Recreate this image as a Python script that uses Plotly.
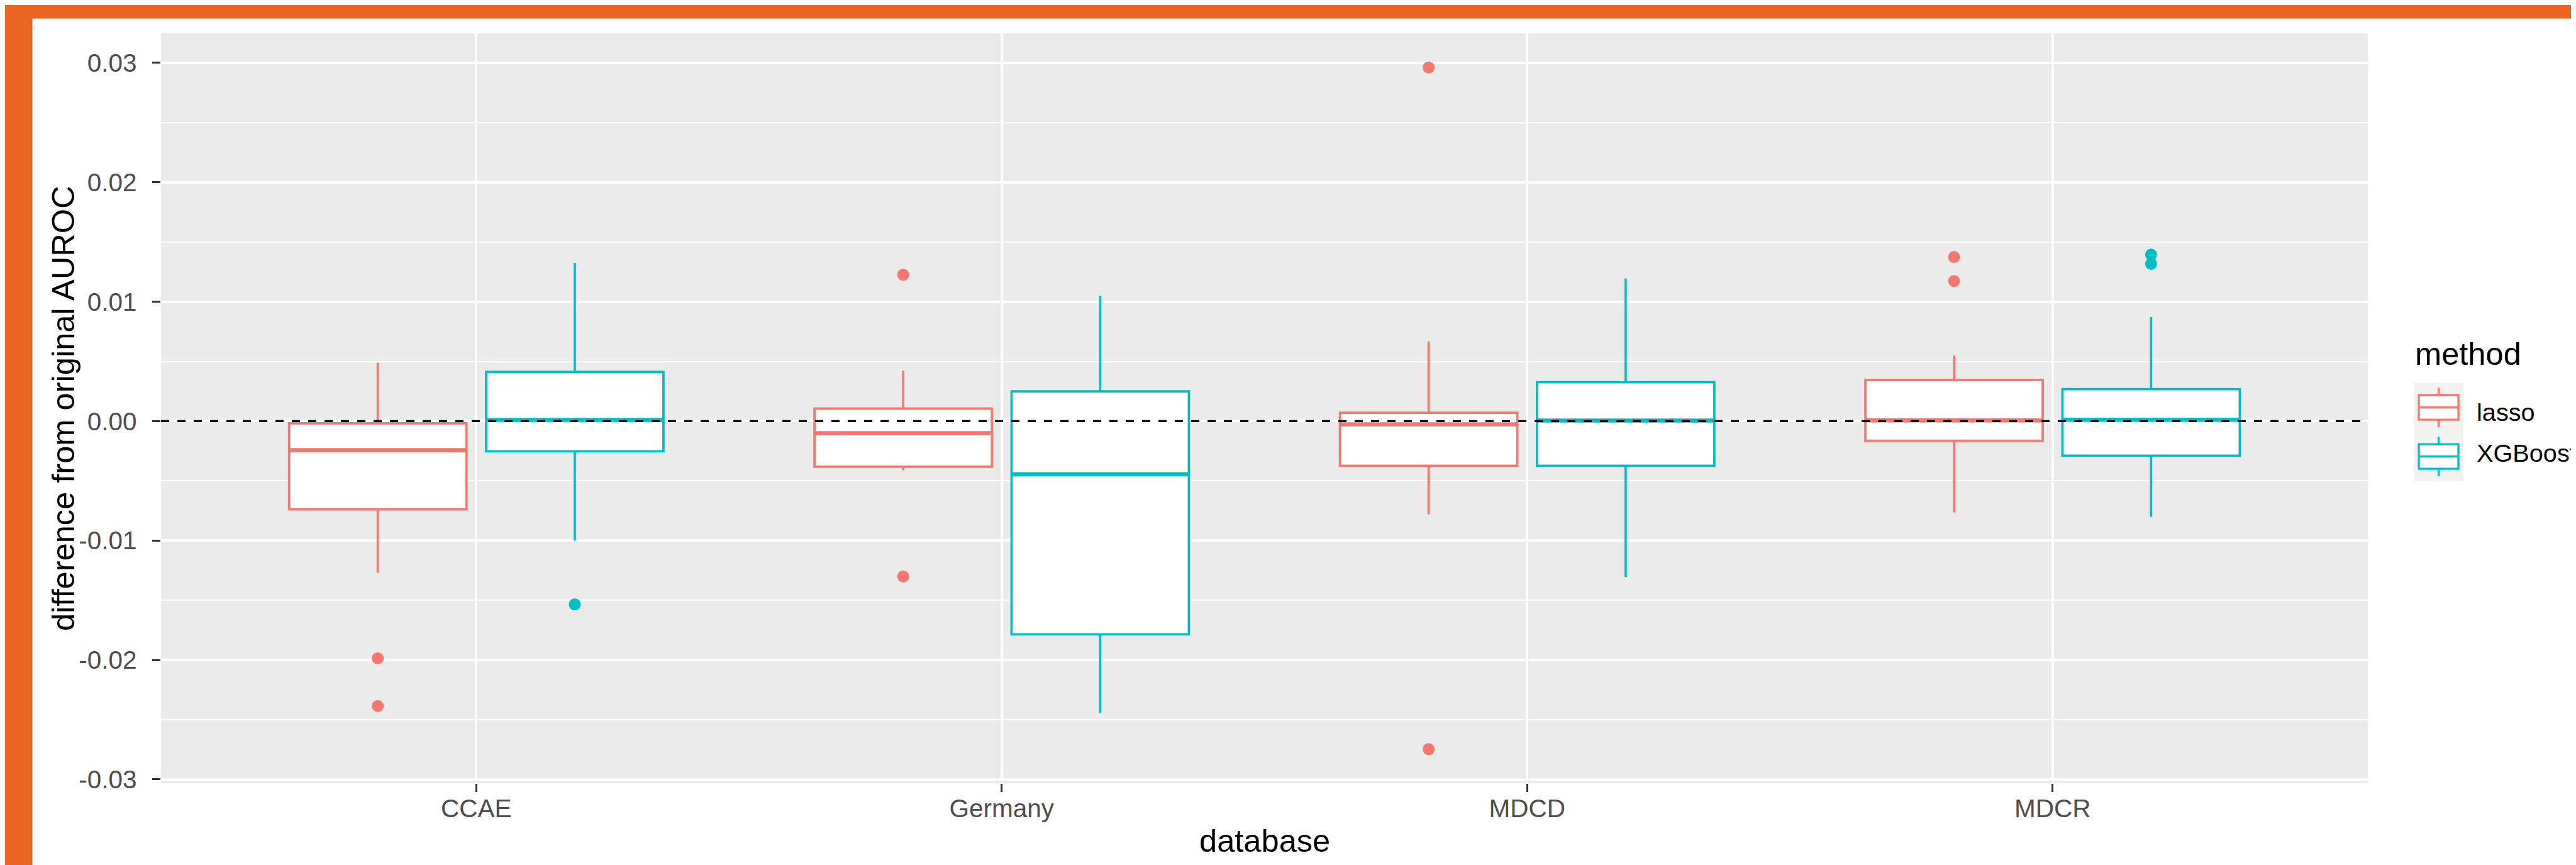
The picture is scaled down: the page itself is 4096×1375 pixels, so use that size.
import plotly.graph_objects as go

# ---------------- data ----------------
databases = ["CCAE", "Germany", "MDCD", "MDCR"]
methods = ["lasso", "XGBoost"]

lasso_lowerfence = [-0.0127, -0.0041, -0.00781, -0.00765]
lasso_q1 = [-0.00738, -0.00382, -0.00374, -0.00164]
lasso_median = [-0.00243, -0.00101, -0.00027, 0.00007]
lasso_q3 = [-0.00018, 0.00106, 0.00070, 0.00344]
lasso_upperfence = [0.00490, 0.00422, 0.00667, 0.00550]
lasso_outlier_db = ["CCAE", "CCAE", "Germany", "Germany", "MDCD", "MDCD", "MDCR", "MDCR"]
lasso_outlier_val = [-0.01987, -0.02386, 0.01226, -0.01300, 0.02962, -0.02747, 0.01374, 0.01173]

xgb_lowerfence = [-0.01000, -0.02444, -0.01304, -0.00803]
xgb_q1 = [-0.00253, -0.01786, -0.00374, -0.00290]
xgb_median = [0.00010, -0.00444, 0.00005, 0.00011]
xgb_q3 = [0.00412, 0.00249, 0.00325, 0.00267]
xgb_upperfence = [0.01324, 0.01049, 0.01194, 0.00872]
xgb_outlier_db = ["CCAE", "MDCR", "MDCR"]
xgb_outlier_val = [-0.01535, 0.01394, 0.01317]

y_tickvals = [-0.03, -0.02, -0.01, 0.0, 0.01, 0.02, 0.03]
y_ticktext = ["-0.03", "-0.02", "-0.01", "0.00", "0.01", "0.02", "0.03"]
ref_line_value = 0.0

x_title = "database"
y_title = "difference from original AUROC"
legend_title = "method"

# ---------------- styling / layout ----------------
W, H = 4096, 1375
S = 4096 / 4903.0
ML = 297 * S
MR = W - 4497 * S
MT = 54 * S
MB = H - 1481 * S
PW = W - ML - MR
PH = H - MT - MB

FONT = "Liberation Sans, Arial, sans-serif"
TICK_FONT = 48.5 * S
LEG_FONT = 47.5 * S
TITLE_FONT = 60.6 * S
COLORS = {"lasso": "#F8766D", "XGBoost": "#00BFC4"}
ORANGE = "#EB6623"
PANEL = "#EBEBEB"
BOX_LW = 3.7
MED_LW = 6.6
DODGE = 0.1875
BOX_W = 0.3375
MARKER = 19


def px2paper_x(px):
    return (px - ML) / PW


def px2paper_y(py):
    return 1 - (py - MT) / PH


idx = {d: i for i, d in enumerate(databases)}

stats = {
    "lasso": (lasso_lowerfence, lasso_q1, lasso_median, lasso_q3, lasso_upperfence,
              lasso_outlier_db, lasso_outlier_val),
    "XGBoost": (xgb_lowerfence, xgb_q1, xgb_median, xgb_q3, xgb_upperfence,
                xgb_outlier_db, xgb_outlier_val),
}
offsets = {"lasso": -DODGE, "XGBoost": DODGE}

fig = go.Figure()
for m in methods:
    lf, q1, med, q3, uf, odb, oval = stats[m]
    pos = [i + offsets[m] for i in range(len(databases))]
    fig.add_trace(go.Box(
        x=pos, q1=q1, median=med, q3=q3, lowerfence=lf, upperfence=uf,
        width=BOX_W, boxpoints=False, whiskerwidth=0,
        fillcolor="white", line=dict(color=COLORS[m], width=BOX_LW),
        name=m, showlegend=False, hoverinfo="skip",
    ))
    # thicker median line (ggplot fatten)
    fig.add_trace(go.Box(
        x=pos, q1=med, median=med, q3=med, lowerfence=med, upperfence=med,
        width=BOX_W - (MED_LW - BOX_LW) / (PW / 4.2), boxpoints=False, whiskerwidth=0,
        fillcolor="rgba(0,0,0,0)", line=dict(color=COLORS[m], width=MED_LW),
        showlegend=False, hoverinfo="skip",
    ))
    fig.add_trace(go.Scatter(
        x=[idx[d] + offsets[m] for d in odb], y=oval, mode="markers",
        marker=dict(color=COLORS[m], size=MARKER, line=dict(width=0)),
        showlegend=False, hoverinfo="skip",
    ))

# y range like ggplot (5% expansion of data range)
all_vals = (lasso_lowerfence + lasso_upperfence + lasso_outlier_val +
            xgb_lowerfence + xgb_upperfence + xgb_outlier_val)
lo, hi = min(all_vals), max(all_vals)
pad = 0.05 * (hi - lo)
yrange = [lo - pad, hi + pad]

minor_vals = [(y_tickvals[i] + y_tickvals[i + 1]) / 2 for i in range(len(y_tickvals) - 1)]

shapes = []
# dashed reference line above boxes
shapes.append(dict(type="line", xref="paper", yref="y", x0=0, x1=1,
                   y0=ref_line_value, y1=ref_line_value, layer="above",
                   line=dict(color="black", width=3.4, dash="13px,13px")))
# orange frame (top & left)
shapes.append(dict(type="rect", xref="paper", yref="paper",
                   x0=px2paper_x(-5), x1=px2paper_x(52 * S),
                   y0=px2paper_y(H + 5), y1=px2paper_y(-5),
                   fillcolor=ORANGE, line=dict(width=0), layer="below"))
shapes.append(dict(type="rect", xref="paper", yref="paper",
                   x0=px2paper_x(-5), x1=px2paper_x(W + 5),
                   y0=px2paper_y(26 * S), y1=px2paper_y(-5),
                   fillcolor=ORANGE, line=dict(width=0), layer="below"))

# custom ggplot-style legend
key_x0 = 4584.6 * S
key_w = 94.2 * S
key_top = 719 * S
key_h = 93.5 * S
LEG_LW = 3.3
shapes.append(dict(type="rect", xref="paper", yref="paper",
                   x0=px2paper_x(key_x0), x1=px2paper_x(key_x0 + key_w),
                   y0=px2paper_y(key_top + 2 * key_h), y1=px2paper_y(key_top),
                   fillcolor="#F2F2F2", line=dict(width=0), layer="above"))
annotations = []
for k, m in enumerate(methods):
    top = key_top + k * key_h
    cx = key_x0 + key_w / 2
    c = COLORS[m]
    shapes.append(dict(type="rect", xref="paper", yref="paper",
                       x0=px2paper_x(key_x0 + 0.1 * key_w), x1=px2paper_x(key_x0 + 0.9 * key_w),
                       y0=px2paper_y(top + 0.75 * key_h), y1=px2paper_y(top + 0.25 * key_h),
                       fillcolor="white", line=dict(color=c, width=LEG_LW), layer="above"))
    shapes.append(dict(type="line", xref="paper", yref="paper",
                       x0=px2paper_x(key_x0 + 0.1 * key_w), x1=px2paper_x(key_x0 + 0.9 * key_w),
                       y0=px2paper_y(top + 0.5 * key_h), y1=px2paper_y(top + 0.5 * key_h),
                       line=dict(color=c, width=LEG_LW), layer="above"))
    shapes.append(dict(type="line", xref="paper", yref="paper",
                       x0=px2paper_x(cx), x1=px2paper_x(cx),
                       y0=px2paper_y(top + 0.1 * key_h), y1=px2paper_y(top + 0.25 * key_h),
                       line=dict(color=c, width=LEG_LW), layer="above"))
    shapes.append(dict(type="line", xref="paper", yref="paper",
                       x0=px2paper_x(cx), x1=px2paper_x(cx),
                       y0=px2paper_y(top + 0.75 * key_h), y1=px2paper_y(top + 0.9 * key_h),
                       line=dict(color=c, width=LEG_LW), layer="above"))
    baseline = (790.7 + k * key_h) * S
    annotations.append(dict(text=m, xref="paper", yref="paper",
                            x=px2paper_x(4702 * S), y=px2paper_y(baseline - 0.3465 * LEG_FONT),
                            xanchor="left", yanchor="middle", showarrow=False,
                            font=dict(family=FONT, size=LEG_FONT, color="black")))

annotations.append(dict(text=legend_title, xref="paper", yref="paper",
                        x=px2paper_x(key_x0), y=px2paper_y(685 * S - 0.3465 * TITLE_FONT),
                        xanchor="left", yanchor="middle", showarrow=False,
                        font=dict(family=FONT, size=TITLE_FONT, color="black")))
annotations.append(dict(text=x_title, xref="paper", yref="paper",
                        x=0.5, y=px2paper_y(1612 * S - 0.3465 * TITLE_FONT),
                        xanchor="center", yanchor="middle", showarrow=False,
                        font=dict(family=FONT, size=TITLE_FONT, color="black")))
annotations.append(dict(text=y_title, xref="paper", yref="paper",
                        x=px2paper_x(135 * S - 0.3465 * TITLE_FONT - 3), y=0.5, textangle=-90,
                        xanchor="center", yanchor="middle", showarrow=False,
                        font=dict(family=FONT, size=TITLE_FONT, color="black")))

fig.update_layout(
    width=W, height=H,
    margin=dict(l=ML, r=MR, t=MT, b=MB, pad=0),
    paper_bgcolor="white", plot_bgcolor=PANEL,
    boxmode="overlay", showlegend=False,
    shapes=shapes, annotations=annotations,
    font=dict(family=FONT),
)
fig.update_xaxes(
    range=[-0.6, len(databases) - 0.4], tickmode="array",
    tickvals=list(range(len(databases))), ticktext=databases,
    showgrid=True, gridcolor="white", gridwidth=3.5, zeroline=False, showline=False,
    ticks="outside", ticklen=16 * S, tickwidth=3, tickcolor="#333333",
    tickfont=dict(family=FONT, size=TICK_FONT, color="#4D4D4D"),
    ticklabelstandoff=-9, automargin=False,
)
fig.update_yaxes(
    range=yrange, tickmode="array", tickvals=y_tickvals, ticktext=y_ticktext,
    showgrid=True, gridcolor="white", gridwidth=3.5, zeroline=False, showline=False,
    ticks="outside", ticklen=16 * S, tickwidth=3, tickcolor="#333333",
    tickfont=dict(family=FONT, size=TICK_FONT, color="#4D4D4D"),
    ticklabelstandoff=16, automargin=False,
    minor=dict(tickmode="array", tickvals=minor_vals, showgrid=True,
               gridcolor="white", gridwidth=2, ticks=""),
)

fig.write_html("out.html")
